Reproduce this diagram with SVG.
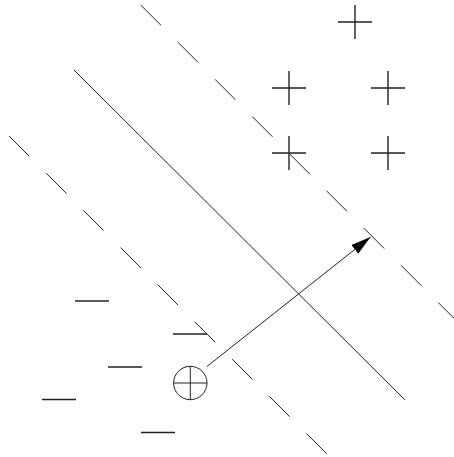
<svg xmlns="http://www.w3.org/2000/svg" width="454" height="457" viewBox="0 0 454 457">
<style>
.sym{stroke:#222;stroke-width:1.4;fill:none}
.ln{stroke:#222;stroke-width:1;fill:none}
.dash{stroke:#222;stroke-width:1;fill:none;stroke-dasharray:28.7 23.9}
</style>
<defs>
<marker id="ah" viewBox="0 0 20 11" refX="20" refY="5.5" markerWidth="20" markerHeight="11" markerUnits="userSpaceOnUse" orient="auto">
<path d="M0,0 L20,5.5 L0,11 Z" fill="#000"/>
</marker>
<path id="plus" d="M-17,0 H17 M0,-17 V17"/>
<path id="minus" d="M-17,0 H17"/>
</defs>
<rect width="454" height="457" fill="#fff"/>
<g id="lines">
<line class="ln" x1="74" y1="70" x2="405" y2="400"/>
<line class="dash" x1="140.7" y1="5" x2="470" y2="334.3"/>
<line class="dash" x1="9" y1="136" x2="326.7" y2="453.7"/>
</g>
<g id="plus1" class="sym"><use href="#plus" x="355" y="22"/></g>
<g id="plus2" class="sym"><use href="#plus" x="289" y="88"/></g>
<g id="plus3" class="sym"><use href="#plus" x="388" y="88"/></g>
<g id="plus4" class="sym"><use href="#plus" x="289" y="153"/></g>
<g id="plus5" class="sym"><use href="#plus" x="388" y="153"/></g>
<g id="minus1" class="sym"><use href="#minus" x="92" y="301"/></g>
<g id="minus2" class="sym"><use href="#minus" x="190" y="334"/></g>
<g id="minus3" class="sym"><use href="#minus" x="125" y="367"/></g>
<g id="minus4" class="sym"><use href="#minus" x="59" y="399.5"/></g>
<g id="minus5" class="sym"><use href="#minus" x="158" y="432.5"/></g>
<g id="point" class="ln">
<circle cx="190.3" cy="383" r="16.7"/>
<path d="M173.6,383 H207 M190.3,366.3 V399.7"/>
</g>
<g id="connectors">
<line class="ln" x1="206.7" y1="366.7" x2="370.5" y2="237" marker-end="url(#ah)"/>
</g>
</svg>
